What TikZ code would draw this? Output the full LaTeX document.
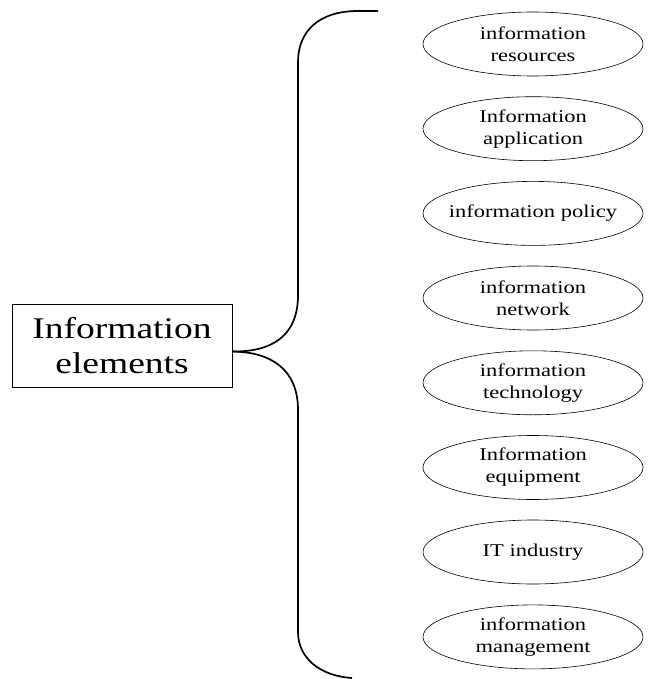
\documentclass[tikz,border=0pt]{standalone}
\usepackage{fontspec}
\setmainfont{Liberation Serif}
\newfontfamily\widefont[FakeStretch=1.25]{Liberation Serif}
\usetikzlibrary{shapes.geometric}

\begin{document}
\begin{tikzpicture}[x=1pt, y=-1pt,
  elem/.style={ellipse, draw, line width=0.6pt, minimum width=220pt, minimum height=64pt,
    inner xsep=-10pt, inner ysep=0pt, align=center, font=\widefont\fontsize{18}{22}\selectfont},
  rootbox/.style={rectangle, draw, line width=0.6pt, minimum width=220pt, minimum height=83pt,
    inner sep=0pt, align=center, font=\widefont\fontsize{30}{35}\selectfont},
  brace/.style={line width=1.7pt}]
\useasboundingbox (0,0) rectangle (648,679);
\node[rootbox] (node_root) [] at (122,345.5) {Information\\elements};
\node[elem] (node_1) [] at (533,44) {information\\resources};
\node[elem] (node_2) [] at (533,128.7) {Information\\application};
\node[elem] (node_3) [] at (533,213.4) {information policy};
\node[elem] (node_4) [] at (533,298) {information\\network};
\node[elem] (node_5) [] at (533,382.8) {information\\technology};
\node[elem] (node_6) [] at (533,467.5) {Information\\equipment};
\node[elem] (node_7) [] at (533,552) {IT industry};
\node[elem] (node_8) [] at (533,636.9) {information\\management};
\coordinate (brace_top) at (378,11);
\coordinate (brace_bot) at (352,678);
\draw[brace] (brace_top) -- (358,11) .. controls (318,11) and (298,32) .. (298,62)
  -- (298,295) .. controls (298,336) and (272,352) .. ([yshift=-6pt]node_root.east);
\draw[brace] ([yshift=-6pt]node_root.east) .. controls (272,352) and (298,370) .. (298,410)
  -- (298,632) .. controls (298,658) and (320,676) .. (brace_bot);
\end{tikzpicture}
\end{document}
